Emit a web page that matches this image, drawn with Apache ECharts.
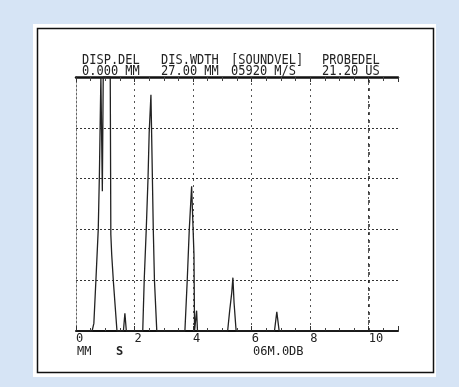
<!DOCTYPE html>
<html>
<head>
<meta charset="utf-8">
<script src="https://cdn.jsdelivr.net/npm/echarts@6/dist/echarts.min.js"></script>
<style>
  html, body { margin: 0; padding: 0; background: #d6e4f5; }
  #frame { position: absolute; left: 33px; top: 24px; width: 403px; height: 353px; background: #fff; }
  #chart { position: absolute; left: 0; top: 0; width: 459px; height: 387px; }
</style>
</head>
<body>
<div id="frame"></div>
<div id="chart"></div>
<script>
// A-scan trace: depth (MM) and echo amplitude (% screen height)
const echoX = [0, 0.55, 0.61, 0.68, 0.76, 0.8, 0.85, 0.88, 0.9, 0.93, 1.17, 1.19, 1.22, 1.28, 1.4,
  1.62, 1.67, 1.72, 2.28, 2.33, 2.4, 2.46, 2.5, 2.56, 2.58, 2.61, 2.64, 2.68, 2.76,
  3.72, 3.8, 3.87, 3.95, 4.01, 4.03, 4.05, 4.1, 4.12, 4.15,
  5.18, 5.25, 5.32, 5.36, 5.4, 5.43, 5.47, 6.78, 6.86, 6.94, 11];
const echoAmp = [0, 0, 3, 20, 40, 62, 100, 100, 55, 100, 100, 38, 30, 19, 0,
  0, 7, 0, 0, 20, 40, 60, 78, 93, 80, 60, 40, 20, 0,
  0, 20, 40, 57, 57, 30, 0, 0, 8, 0,
  0, 8, 15, 21, 11, 11, 0, 0, 7.5, 0, 0];
const xTickLabels = ['0', '2', '4', '6', '8', '10'];
const headerTop = ['DISP.DEL', 'DIS.WDTH', '[SOUNDVEL]', 'PROBEDEL'];
const headerBottom = ['0.000 MM', '27.00 MM', '05920 M/S', '21.20 US'];

const mono = 'DejaVu Sans Mono';
const ink = '#222';
const headerX = [82, 161, 231, 322];

const graphics = [
  { type: 'rect', shape: { x: 37.5, y: 28.5, width: 396, height: 344 }, style: { fill: 'none', stroke: '#111', lineWidth: 1.5 } }
];
headerTop.forEach((t, i) => {
  graphics.push({ type: 'text', x: headerX[i], y: 54, scaleY: 1.15, style: { text: t, font: '12px "' + mono + '"', fill: ink } });
  graphics.push({ type: 'text', x: headerX[i], y: 65, scaleY: 1.15, style: { text: headerBottom[i], font: '12px "' + mono + '"', fill: ink } });
});
graphics.push({ type: 'text', left: 77, top: 346, style: { text: 'MM', font: '12px "' + mono + '"', fill: ink } });
graphics.push({ type: 'text', left: 116, top: 346, style: { text: 'S', font: 'bold 12px "' + mono + '"', fill: ink } });
graphics.push({ type: 'text', left: 253, top: 346, style: { text: '06M.0DB', font: '12px "' + mono + '"', fill: ink } });

const chart = echarts.init(document.getElementById('chart'), null, { renderer: 'canvas' });
chart.setOption({
  animation: false,
  backgroundColor: 'transparent',
  grid: { left: 76, right: 61, top: 77, bottom: 56 },
  graphic: graphics,
  xAxis: [{
    type: 'value', min: 0, max: 11, interval: 2, position: 'bottom',
    axisLine: { lineStyle: { color: '#111', width: 2 } },
    axisTick: { show: true, inside: true, length: 5, lineStyle: { color: '#333' } },
    minorTick: { show: true, splitNumber: 4, length: 3, lineStyle: { color: '#444' } },
    axisLabel: {
      color: ink, fontFamily: mono, fontSize: 12, align: 'left', margin: 2,
      formatter: v => (v <= 10 ? xTickLabels[v / 2] : '')
    },
    splitLine: { show: true, showMinLine: false, showMaxLine: false, lineStyle: { color: '#555', type: [2, 4], width: 1 } }
  }, {
    type: 'value', min: 0, max: 11, interval: 2, position: 'top',
    axisLine: { lineStyle: { color: '#111', width: 2.5 } },
    axisTick: { show: true, inside: true, length: 5, lineStyle: { color: '#333' } },
    minorTick: { show: true, splitNumber: 4, length: 4, lineStyle: { color: '#444' } },
    axisLabel: { show: false },
    splitLine: { show: false }
  }],
  yAxis: {
    type: 'value', min: 0, max: 100, interval: 20,
    axisLine: { show: true, lineStyle: { color: '#666', type: [2, 2] } },
    axisTick: { show: false },
    axisLabel: { show: false },
    splitLine: { lineStyle: { color: '#333', type: [2, 2], width: 1 } }
  },
  series: [{
    type: 'line',
    data: echoX.map((x, i) => [x, echoAmp[i]]),
    symbol: 'none',
    lineStyle: { color: ink, width: 1.3 },
    markLine: {
      silent: true, symbol: 'none', label: { show: false },
      lineStyle: { color: '#222', type: [3, 5], width: 1.5 },
      data: [{ xAxis: 10 }]
    }
  }]
});
</script>
</body>
</html>
